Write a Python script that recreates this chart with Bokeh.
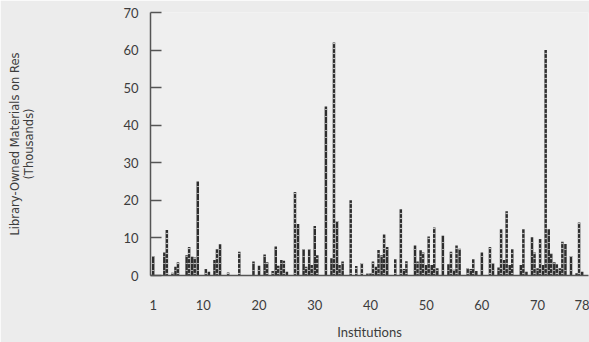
from bokeh.plotting import figure
from bokeh.models import ColumnDataSource, Range1d, FixedTicker
from bokeh.transform import dodge
from bokeh.embed import file_html
from bokeh.resources import INLINE

institutions = list(range(1, 79))

# two overlapping readings per institution (thousands of items)
series_a = [5.1, 0, 6.1, 0, 2.3, 0, 5.4, 5.0, 25, 0,
            1.0, 4.1, 8.3, 0, 0, 0, 0, 0, 3.7, 2.6,
            5.6, 0, 7.7, 4.1, 1.0, 0, 13.7, 7.0, 7.0, 13.2,
            0, 45, 4.6, 14.5, 3.7, 0, 0, 0, 0, 0.5,
            2.3, 5.4, 7.6, 0, 0, 1.7, 0, 8.0, 6.7, 2.8,
            2.8, 1.9, 10.6, 3.0, 1.5, 7.1, 0, 1.7, 1.2, 6.1,
            0, 3.2, 2.1, 4.1, 2.8, 0, 2.8, 1.0, 10.2, 1.9,
            2.8, 12.3, 3.5, 1.9, 8.4, 5.2, 0.6, 1.0]
series_b = [0, 0, 12.1, 0.7, 3.5, 0, 7.6, 4.8, 0, 1.7,
            0, 7.0, 0, 0.8, 0, 6.3, 0, 0, 0, 0,
            3.5, 1.2, 2.6, 3.9, 0, 22.2, 0, 2.3, 2.8, 5.4,
            0, 0, 62, 2.8, 0, 20, 2.5, 3.3, 0.5, 3.7,
            6.8, 10.9, 0, 4.3, 17.6, 3.8, 0, 3.7, 6.1, 10.4,
            12.8, 0, 0, 6.3, 8.0, 0, 1.9, 4.3, 0, 0,
            7.6, 0, 12.3, 17.1, 7.0, 0, 12.3, 0, 6.1, 9.7,
            60, 5.8, 3.0, 9.0, 0, 0, 14.1, 0]

x_ticks = [1, 10, 20, 30, 40, 50, 60, 70, 78]
y_ticks = [0, 10, 20, 30, 40, 50, 60, 70]

FONT = "Lato"
TXT = "#3c3c3c"

src = ColumnDataSource(dict(inst=institutions, a=series_a, b=series_b))

p = figure(width=589, height=342,
           x_range=Range1d(0.515, 79.14), y_range=Range1d(0, 70),
           output_backend="svg", toolbar_location=None,
           min_border_left=150, min_border_right=1,
           min_border_top=12, min_border_bottom=61)

p.background_fill_color = "#efefef"
p.border_fill_color = "#ececec"
p.outline_line_color = None
p.xgrid.visible = False
p.ygrid.visible = False

p.vbar(x=dodge('inst', 0.0), top='a', width=0.45, source=src,
       fill_color="#2e2e2e", line_color=None,
       hatch_pattern="horizontal_line", hatch_color="#a8a8a8",
       hatch_scale=7, hatch_weight=1.0)
p.vbar(x=dodge('inst', 0.45), top='b', width=0.45, source=src,
       fill_color="#2e2e2e", line_color=None,
       hatch_pattern="horizontal_line", hatch_color="#bdbdbd",
       hatch_scale=5, hatch_weight=1.2)

xa = p.xaxis[0]
xa.ticker = FixedTicker(ticks=x_ticks)
xa.axis_line_color = "#555555"
xa.axis_line_width = 1.5
xa.major_tick_line_color = None
xa.minor_tick_line_color = None
xa.major_label_standoff = 18
xa.major_label_text_font = FONT
xa.major_label_text_font_size = "13px"
xa.major_label_text_color = TXT
xa.axis_label = "Institutions"
xa.axis_label_text_font = FONT
xa.axis_label_text_font_size = "13px"
xa.axis_label_text_font_style = "normal"
xa.axis_label_text_color = TXT
xa.axis_label_standoff = 11

ya = p.yaxis[0]
ya.ticker = FixedTicker(ticks=y_ticks)
ya.axis_line_color = "#555555"
ya.axis_line_width = 1.5
ya.major_tick_in = 11
ya.major_tick_out = 0
ya.major_tick_line_color = "#555555"
ya.major_tick_line_width = 1.5
ya.minor_tick_line_color = None
ya.major_label_standoff = 12
ya.major_label_text_font = FONT
ya.major_label_text_font_size = "13px"
ya.major_label_text_color = TXT
ya.axis_label = "Library-Owned Materials on Res\n(Thousands)"
ya.axis_label_text_font = "DejaVu Sans"
ya.axis_label_text_font_size = "11.5px"
ya.axis_label_text_line_height = 1.0
ya.axis_label_text_font_style = "normal"
ya.axis_label_text_color = TXT
ya.axis_label_standoff = 84

open("out.html", "w").write(file_html(p, INLINE))
